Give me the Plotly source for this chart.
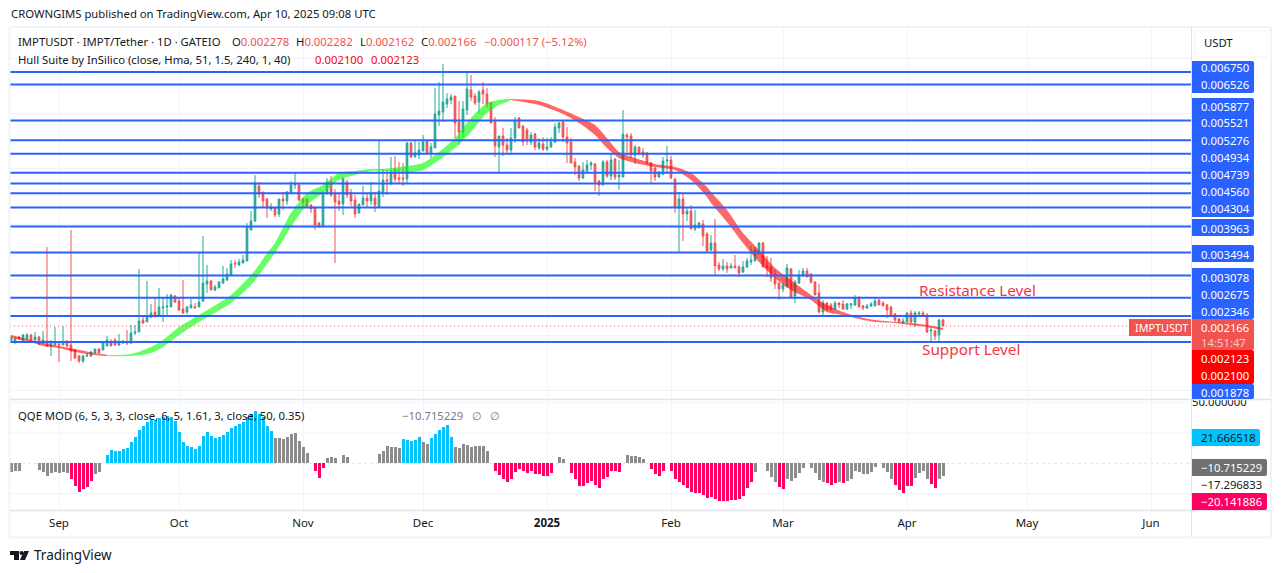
import pandas as pd
import plotly.graph_objects as go

W, H = 1281, 573
FONT = "Noto Sans"

# Daily IMPT/USDT candles, in millionths of a USDT
opens_u = [
    1877,1895,1967,1895,1931,2003,1913,1967,1859,1895,
    1805,1823,1841,1823,1895,1823,1732,1624,1534,1624,
    1624,1678,1750,1732,1805,1859,1913,1823,1859,1877,
    1859,2039,2057,2274,2238,2328,2418,2364,2491,2509,
    2509,2707,2617,2473,2418,2491,2509,2509,2617,2924,
    2978,2816,2852,2942,2996,3086,3303,3267,3303,3339,
    3899,4061,4693,4584,4458,4278,4296,4187,4458,4422,
    4566,4711,4711,4458,4458,4350,4314,4025,3953,4566,
    4765,4566,4422,4368,4765,4566,4440,4205,4350,4476,
    4422,4476,4314,4566,4801,4747,5000,4837,4837,4819,
    5469,5216,5252,5324,5505,5288,5379,5974,6028,6173,
    6245,6317,5848,5667,6065,6426,6317,6209,6426,6353,
    6191,5848,5397,5595,5433,5343,5559,5920,5776,5704,
    5487,5631,5379,5451,5360,5397,5487,5740,5848,5577,
    5487,5126,5054,4837,4963,5072,5090,4783,4711,5126,
    4873,5180,4855,4855,5613,5595,5252,5397,5306,5288,
    5108,5018,4855,4909,5144,5162,4819,4296,4458,4187,
    4241,3917,3935,4007,3826,3538,3664,3267,3195,3249,
    3213,3249,3231,3140,3231,3321,3339,3465,3664,3249,
    3231,3032,2942,2834,2870,3195,2707,2942,3086,3159,
    3104,2960,2761,2418,2581,2545,2473,2581,2563,2473,
    2545,2545,2689,2527,2491,2527,2527,2635,2581,2545,
    2509,2382,2292,2220,2238,2400,2238,2382,2400,2364,
    2075,2075,2003,2278,
]
highs_u = [
    1985,1967,1985,2021,2039,2021,2057,1985,2075,3592,
    1895,2148,1859,2166,1913,3899,1750,1642,1642,1678,
    1714,1750,1769,1877,1985,1931,1949,2021,1913,2093,
    2184,2184,3195,2346,2978,2563,2671,2852,2671,2743,
    2743,2725,2689,2996,2527,2653,2581,3501,3790,3267,
    2996,2906,2978,3249,3213,3357,3357,3375,3447,4025,
    4241,4891,4765,4584,4476,4386,4314,4458,4584,4602,
    4783,4927,4729,4476,4476,4368,4314,4043,4602,4837,
    4873,4639,4566,4855,4801,4639,4530,4368,4693,4566,
    4765,4584,5523,5000,4982,5216,5234,5126,5108,5487,
    5487,5505,5487,5613,5505,5469,6462,6570,6895,6371,
    6353,6317,6227,6227,6732,6696,6371,6426,6570,6462,
    6209,5938,5595,5740,5559,5740,5938,5938,5794,5740,
    5667,5649,5559,5577,5559,5577,5830,5848,5866,5758,
    5559,5198,5072,5126,5162,5144,5108,4801,5162,5162,
    5288,5198,5162,6065,5649,5649,5433,5397,5379,5306,
    5126,5036,4963,5216,5415,5234,4837,4584,4566,4314,
    4350,4260,4043,4079,3862,3808,4097,3321,3375,3321,
    3303,3447,3267,3339,3393,3610,3592,3682,3682,3429,
    3393,3177,2960,2942,3285,3213,2996,3177,3213,3213,
    3122,2978,2924,2635,2599,2581,2617,2599,2635,2581,
    2581,2725,2689,2545,2563,2599,2689,2653,2617,2563,
    2527,2400,2310,2310,2418,2455,2436,2436,2436,2400,
    2148,2093,2292,2282,
]
lows_u = [
    1859,1841,1913,1877,1913,1877,1859,1823,1841,1787,
    1624,1823,1516,1823,1787,1534,1570,1498,1498,1606,
    1606,1678,1678,1732,1805,1805,1805,1805,1841,1823,
    1841,2003,2057,2202,2238,2310,2328,2346,2238,2328,
    2509,2581,2436,2382,2382,2491,2491,2509,2599,2761,
    2816,2798,2852,2924,2978,3068,3213,3249,3303,3339,
    3899,4043,4476,4296,4115,4241,4133,4133,4260,4350,
    4548,4639,4422,4314,4296,4205,3899,3935,3953,4530,
    4494,3303,4241,4169,4476,4332,4115,4205,4350,4314,
    4350,4223,4314,4494,4530,4711,4765,4747,4693,4747,
    5198,5216,5180,5324,5270,5198,5379,5776,5848,6101,
    6173,5559,5433,5559,5974,6227,6155,6010,6173,6101,
    5830,5216,4927,5234,5270,5252,5469,5740,5415,5433,
    5433,5343,5343,5324,5324,5379,5469,5649,5487,5108,
    5108,4891,4783,4819,4945,4982,4602,4512,4711,4837,
    4801,4801,4621,4855,5252,5198,5090,5252,5198,5090,
    4747,4783,4837,4891,4927,4819,4205,3501,3700,4061,
    3917,3880,3935,3610,3483,3520,3086,3159,3159,3122,
    3213,3213,3050,3122,3213,3267,3339,3465,3231,3050,
    2960,2834,2635,2779,2870,2689,2581,2924,3050,3050,
    2924,2725,2400,2346,2436,2436,2455,2491,2455,2455,
    2473,2527,2509,2455,2473,2509,2527,2545,2527,2310,
    2328,2238,2220,2220,2238,2220,2148,2328,2328,2039,
    1877,1913,1895,2162,
]
closes_u = [
    1949,1931,1931,2003,2003,1895,1967,1841,1913,1805,
    1895,1859,1823,1859,1805,1714,1588,1534,1624,1642,
    1696,1750,1678,1877,1913,1805,1823,1877,1895,1859,
    2039,2057,2256,2220,2346,2400,2328,2509,2509,2527,
    2725,2599,2455,2400,2509,2545,2491,2599,2942,2978,
    2816,2870,2960,3014,3104,3285,3285,3321,3357,3953,
    4061,4747,4548,4422,4296,4314,4169,4458,4422,4584,
    4711,4729,4440,4404,4332,4278,3989,3971,4584,4765,
    4530,4404,4368,4819,4530,4422,4187,4368,4476,4422,
    4566,4350,4602,4801,4783,4945,4819,4819,4819,5469,
    5216,5288,5343,5487,5270,5397,5992,6047,6209,6263,
    6299,5830,5667,6083,6444,6299,6191,6389,6353,6173,
    5830,5415,5595,5433,5343,5559,5884,5740,5487,5505,
    5613,5397,5469,5360,5397,5487,5758,5830,5577,5469,
    5108,5036,4837,4982,5072,5108,4765,4711,5126,4873,
    5162,4855,4891,5631,5577,5252,5397,5288,5252,5108,
    4963,4855,4945,5144,5162,4837,4314,4458,4187,4241,
    3917,3989,4025,3790,3520,3664,3249,3195,3249,3195,
    3249,3213,3122,3231,3339,3357,3538,3664,3231,3213,
    3032,2924,2834,2906,3213,2689,2960,3086,3159,3050,
    2960,2725,2418,2581,2473,2473,2581,2545,2473,2563,
    2563,2671,2509,2491,2527,2563,2617,2545,2527,2455,
    2346,2274,2238,2256,2400,2238,2400,2400,2346,2057,
    2093,1985,2274,2166,
]

# Hull Suite band: sample day offset, upper and lower edge of each colour run
hull_red_a_day = [0, 5, 8, 12, 16, 21, 24]
hull_red_a_hi = [2003, 1913, 1859, 1805, 1750, 1678, 1642]
hull_red_a_lo = [1949, 1877, 1805, 1769, 1696, 1642, 1624]

hull_green_day = [24, 30, 35, 38, 42, 47, 55, 60, 62, 64, 66, 70, 74, 78, 82, 86,
                  90, 93, 99, 103, 107, 111, 115, 119, 122, 125]
hull_green_hi = [1642, 1660, 1787, 1913, 2148, 2364, 2725, 3086, 3267, 3483, 3664,
                 4205, 4566, 4711, 4927, 4963, 5000, 5000, 5054, 5108, 5306, 5559,
                 5920, 6191, 6245, 6263]
hull_green_lo = [1624, 1624, 1678, 1787, 2003, 2238, 2581, 2906, 3086, 3285, 3483,
                 3953, 4350, 4566, 4801, 4891, 4963, 4963, 4945, 4982, 5162, 5379,
                 5667, 6010, 6155, 6245]

hull_red_b_day = [125, 132, 138, 142, 146, 149, 152, 156, 161, 166, 170, 174, 175,
                  179, 183, 187, 191, 195, 200, 204, 208, 212, 216, 221, 225, 229, 233]
hull_red_b_hi = [6263, 6227, 6065, 5938, 5794, 5559, 5306, 5198, 5090, 5036, 4927,
                 4675, 4584, 4260, 3844, 3538, 3213, 2996, 2725, 2545, 2418, 2328,
                 2274, 2238, 2220, 2184, 2123]
hull_red_b_lo = [6245, 6155, 5992, 5830, 5613, 5379, 5198, 5108, 5036, 4982, 4801,
                 4494, 4386, 4043, 3664, 3321, 3032, 2816, 2635, 2418, 2364, 2292,
                 2238, 2220, 2184, 2148, 2100]

# Horizontal levels drawn on the chart
levels = [0.006750, 0.006526, 0.005877, 0.005521, 0.005276, 0.004934, 0.004739,
          0.004560, 0.004304, 0.003963, 0.003494, 0.003078, 0.002675, 0.002346, 0.001878]
last_price = 0.002166

# QQE MOD histogram, one value per candle; None means no bar that day
qqe_values = [
    -6.8,-6.0,-6.3,None,None,None,None,-5.5,-6.8,-10.4,
    -7.7,-7.4,-7.7,-6.8,-7.7,-12.9,-18.6,-23.6,-21.4,-19.7,
    -14.5,-8.8,-7.4,None,6.9,11.0,10.4,10.1,11.8,12.6,
    17.5,21.6,27.4,30.4,33.7,35.6,35.6,37.3,38.4,39.2,
    38.4,35.0,25.8,17.5,14.2,13.4,11.8,14.2,22.5,25.8,
    22.7,21.1,21.6,23.3,25.8,29.0,30.7,32.3,34.0,38.4,
    40.6,43.0,40.6,38.4,30.7,26.6,20.8,20.8,20.0,21.6,
    24.1,24.9,18.4,13.4,8.5,None,-6.3,-12.0,-3.8,4.4,
    5.2,4.4,None,6.9,5.2,None,None,None,None,None,
    None,None,7.7,10.1,14.2,13.4,13.4,12.6,20.0,19.2,
    18.4,19.2,21.6,17.5,15.9,20.8,24.1,27.4,29.9,31.5,
    21.6,13.4,12.6,15.9,15.0,13.4,14.2,14.2,14.2,10.1,
    None,-6.3,-9.6,-12.9,-15.3,-12.9,-7.1,-4.7,-6.3,-7.9,
    -6.3,-8.8,-8.8,-10.4,-10.4,-7.9,None,5.2,3.6,None,
    -7.9,-12.9,-18.6,-18.6,-16.2,-14.5,-17.8,-20.3,-12.9,-11.2,
    -6.3,-6.3,-7.1,None,6.9,6.0,6.0,5.2,3.6,None,
    -4.7,-8.8,-10.4,-6.3,None,-6.3,-12.9,-15.3,-17.8,-20.3,
    -23.6,-24.4,-24.4,-26.0,-28.5,-27.7,-29.3,-31.0,-31.0,-31.0,
    -30.1,-30.1,-29.3,-26.9,-20.3,-15.3,-7.1,None,None,-6.3,
    -11.2,-15.3,-19.5,-21.1,-12.9,-14.5,-12.0,-7.9,-3.8,None,
    -3.8,-7.9,-13.7,-15.3,-16.2,-17.8,-16.2,-15.3,-16.2,-14.5,
    -12.9,-6.3,-7.1,-8.8,-8.8,-7.1,-3.0,None,-3.8,-7.1,
    -12.9,-17.8,-21.9,-24.4,-18.6,-18.6,-12.0,-7.9,-6.3,-12.9,
    -17.0,-20.3,-12.9,-10.715,
]
# Bar state per candle: B rising, P falling, G neutral
qqe_state = ("G"*15 + "P"*6 + "G"*3 + "B"*42 + "G"*10 + "P"*3 + "G"*19 + "B"*5 + "G"*2
             + "B"*6 + "G"*10 + "P"*16 + "G"*3 + "P"*14 + "G"*6 + "P"*26 + "G"*6 + "P"*2
             + "G"*10 + "P"*3 + "G"*1 + "P"*1 + "G"*12 + "P"*5 + "G"*4 + "P"*2 + "G"*2)
state_colours = {"B": "#00C3FF", "P": "#FF0062", "G": "#8C8C8C"}

month_starts = ["2024-09-01", "2024-10-01", "2024-11-01", "2024-12-01", "2025-01-01",
                "2025-02-01", "2025-03-01", "2025-04-01", "2025-05-01", "2025-06-01"]
month_names = ["Sep", "Oct", "Nov", "Dec", "<b>2025</b>", "Feb", "Mar", "Apr", "May", "Jun"]

dates = pd.date_range("2024-08-20", periods=len(closes_u), freq="D")
to_price = lambda seq: [v * 1e-6 for v in seq]


def px(x):
    return x / W


def py(y):
    return 1 - y / H


UP, DOWN, BLUE = "#26A69A", "#EF5350", "#2962FF"
HULL_GREEN, HULL_RED = "rgba(0,255,0,0.6)", "rgba(255,0,0,0.6)"
TEXT, GRID, EDGE = "#131722", "#F0F3FA", "#E0E3EB"
X_RANGE = ["2024-08-19 18:00", "2025-06-11 00:00"]

fig = go.Figure()

fig.add_trace(go.Candlestick(
    x=dates, open=to_price(opens_u), high=to_price(highs_u),
    low=to_price(lows_u), close=to_price(closes_u),
    increasing=dict(line=dict(color=UP, width=1), fillcolor=UP),
    decreasing=dict(line=dict(color=DOWN, width=1), fillcolor=DOWN),
    whiskerwidth=0, xaxis="x", yaxis="y", hoverinfo="skip",
))


def hull_band(days, hi, lo, colour):
    xs = [dates[d] for d in days]
    fig.add_trace(go.Scatter(
        x=xs + xs[::-1], y=to_price(hi) + to_price(lo)[::-1],
        mode="lines", fill="toself", fillcolor=colour,
        line=dict(width=0, shape="spline", smoothing=0.7), xaxis="x", yaxis="y",
        hoverinfo="skip",
    ))


hull_band(hull_red_a_day, hull_red_a_hi, hull_red_a_lo, HULL_RED)
hull_band(hull_green_day, hull_green_hi, hull_green_lo, HULL_GREEN)
hull_band(hull_red_b_day, hull_red_b_hi, hull_red_b_lo, HULL_RED)

fig.add_trace(go.Scatter(
    x=X_RANGE, y=[last_price, last_price], mode="lines",
    line=dict(color=DOWN, width=1, dash="1px 3px"), xaxis="x", yaxis="y", hoverinfo="skip",
))
for level in levels:
    fig.add_trace(go.Scatter(
        x=X_RANGE, y=[level, level], mode="lines",
        line=dict(color=BLUE, width=2), xaxis="x", yaxis="y", hoverinfo="skip",
    ))

fig.add_trace(go.Bar(
    x=dates, y=qqe_values, width=0.75 * 86400000,
    marker=dict(color=[state_colours[s] for s in qqe_state], line=dict(width=0)),
    xaxis="x2", yaxis="y2", hoverinfo="skip",
))

# Furniture: frame, pane dividers, guide lines, price-scale tags
shapes = []


def rule(x0, y0, x1, y1, colour, width=1):
    shapes.append(dict(type="line", xref="paper", yref="paper", layer="above",
                       x0=px(x0), y0=py(y0), x1=px(x1), y1=py(y1),
                       line=dict(color=colour, width=width)))


def tag(x0, y0, x1, y1, colour, radius=2):
    path = (f"M{px(x0)},{py(y0)} L{px(x1-radius)},{py(y0)} Q{px(x1)},{py(y0)} {px(x1)},{py(y0+radius)} "
            f"L{px(x1)},{py(y1-radius)} Q{px(x1)},{py(y1)} {px(x1-radius)},{py(y1)} L{px(x0)},{py(y1)} Z")
    shapes.append(dict(type="path", xref="paper", yref="paper", layer="above", path=path,
                       fillcolor=colour, line=dict(width=0)))


for guide, dash in [(50, "solid"), (25, "solid"), (0, "dot"), (-25, "solid")]:
    shapes.append(dict(type="line", xref="x2", yref="y2", layer="below",
                       x0=X_RANGE[0], x1=X_RANGE[1], y0=guide, y1=guide,
                       line=dict(color=EDGE if guide == 0 else GRID, width=1, dash=dash)))

rule(10, 27, 1271, 27, GRID, 2)
rule(9.5, 27, 9.5, 538, GRID, 2)
rule(1271, 27, 1271, 538, GRID, 2)
rule(10, 537.5, 1271, 537.5, GRID, 2)
rule(1191.5, 27, 1191.5, 537, EDGE)
rule(10, 399.5, 1271, 399.5, EDGE, 1.5)
rule(10, 510.5, 1271, 510.5, EDGE, 1.5)

tag(1192, 61, 1254, 93, BLUE)
tag(1192, 98, 1254, 217, BLUE)
tag(1192, 219, 1254, 236, BLUE)
tag(1192, 245, 1254, 262, BLUE)
tag(1192, 268, 1254, 319, BLUE)
tag(1192, 319, 1254, 350, "#F05350")
tag(1192, 350, 1254, 384, "#FF0000")
tag(1192, 384, 1254, 399, BLUE)
tag(1129, 319, 1191, 336, "#F05350", 0)
tag(1192, 429, 1260, 446, "#00C3FF")
shapes.append(dict(type="rect", xref="paper", yref="paper", layer="above",
                   x0=px(1192), x1=px(1267), y0=py(476), y1=py(493),
                   fillcolor="#FFFFFF", line=dict(width=0)))
tag(1192, 459, 1267, 476, "#707070")
tag(1192, 493, 1267, 510, "#FF0062")

# Currency button on the price scale
shapes.append(dict(type="rect", xref="paper", yref="paper", layer="above",
                   x0=px(1195), x1=px(1267), y0=py(31), y1=py(57),
                   fillcolor="#FFFFFF", line=dict(color=GRID, width=1)))

# Brand mark
shapes.append(dict(type="path", xref="paper", yref="paper", layer="above",
                   path=(f"M{px(10)},{py(551)} L{px(19)},{py(551)} L{px(19)},{py(560)} L{px(14)},{py(560)} "
                         f"L{px(14)},{py(555)} L{px(10)},{py(555)} Z"),
                   fillcolor=TEXT, line=dict(width=0)))
shapes.append(dict(type="circle", xref="paper", yref="paper", layer="above",
                   x0=px(19.5), x1=px(23.5), y0=py(551), y1=py(555),
                   fillcolor=TEXT, line=dict(width=0)))
shapes.append(dict(type="path", xref="paper", yref="paper", layer="above",
                   path=(f"M{px(24)},{py(551)} L{px(29)},{py(551)} L{px(25)},{py(560)} L{px(20)},{py(560)} Z"),
                   fillcolor=TEXT, line=dict(width=0)))

notes = []


def note(x, y, text, colour=TEXT, size=11.3, anchor="left", font=FONT):
    notes.append(dict(xref="paper", yref="paper", x=px(x), y=py(y), text=text,
                      showarrow=False, xanchor=anchor, yanchor="middle", borderpad=0,
                      font=dict(family=font, size=size, color=colour)))


CORAL = "#F05350"
note(10, 14, "CROWNGIMS published on TradingView.com, Apr 10, 2025 09:08 UTC")
note(17, 42, "IMPTUSDT · IMPT/Tether · 1D · GATEIO")
for x, letter, value in [(231, "O", "0.002278"), (295, "H", "0.002282"),
                         (359, "L", "0.002162"), (420, "C", "0.002166")]:
    note(x, 42, f"{letter}<span style='color:{CORAL}'>{value}</span>")
note(483, 42, "−0.000117 (−5.12%)", CORAL)
note(17, 59, "Hull Suite by InSilico (close, Hma, 51, 1.5, 240, 1, 40)")
note(314, 59, "0.002100", "#FF0000")
note(370, 59, "0.002123", "#FF0000")
note(17, 415, "QQE MOD (6, 5, 3, 3, close, 6, 5, 1.61, 3, close, 50, 0.35)")
note(401, 415, "−10.715229", "#787B86")
note(471, 415, "∅", "#787B86")
note(489, 415, "∅", "#787B86")
note(918, 290, "Resistance Level", "#F23645", 15.3)
note(921, 349, "Support Level", "#F23645", 15.3)
note(33, 555, "TradingView", TEXT, 13.5)
note(1203, 43, "USDT")

# Level tags sit stacked where they would otherwise collide
tag_centres = [67.7, 84.7, 106, 123, 140, 157.5, 174.5, 191.5, 208.7, 228, 254, 277,
               294, 311, 392.7]
for level, centre in zip(levels, tag_centres):
    note(1199.5, centre, f"{level:.6f}", "#FFFFFF")
note(1199.5, 327.7, f"{last_price:.6f}", "#FFFFFF")
note(1199.5, 342, "14:51:47", "#F9C9C8")
note(1199.5, 358.7, "0.002123", "#FFFFFF")
note(1199.5, 375.7, "0.002100", "#FFFFFF")
note(1134, 327.7, "IMPTUSDT", "#FFFFFF", 10.8)
note(1199.5, 437.7, "21.666518", TEXT)
note(1199.5, 467.4, "−10.715229", "#FFFFFF")
note(1199.5, 484.5, "−17.296833", TEXT)
note(1199.5, 501.5, "−20.141886", "#FFFFFF")

x_common = dict(type="date", range=X_RANGE, tickvals=month_starts, ticktext=month_names,
                showgrid=True, gridcolor=GRID, gridwidth=1, zeroline=False, ticks="",
                showline=False, domain=[px(10), px(1191)])

fig.update_layout(
    width=W, height=H, autosize=False, showlegend=False,
    margin=dict(l=0, r=0, t=0, b=0, pad=0, autoexpand=False),
    paper_bgcolor="#FFFFFF", plot_bgcolor="#FFFFFF",
    bargap=0, boxgap=0.4, hovermode=False,
    font=dict(family=FONT, size=12, color=TEXT),
    xaxis=dict(x_common, anchor="y", showticklabels=False, rangeslider=dict(visible=False)),
    xaxis2=dict(x_common, anchor="y2", showticklabels=True, matches="x", ticklabelstandoff=4,
                tickfont=dict(family=FONT, size=11.5, color=TEXT)),
    yaxis=dict(range=[0.000848, 0.007545], domain=[py(399), py(28)], anchor="x",
               tick0=0, dtick=0.001, showgrid=True, gridcolor=GRID, gridwidth=1,
               showticklabels=False, zeroline=False, ticks=""),
    yaxis2=dict(range=[-38.4, 52.06], domain=[py(510), py(400)], anchor="x2", side="right",
                tickvals=[50, 25, 0], ticktext=["50.000000", "25.000000", "0.000000"],
                tickfont=dict(family=FONT, size=11.3, color=TEXT), ticklabelposition="outside",
                showgrid=False, zeroline=False, ticks=""),
    shapes=shapes, annotations=notes,
)

fig.write_html("out.html", config=dict(displayModeBar=False))
